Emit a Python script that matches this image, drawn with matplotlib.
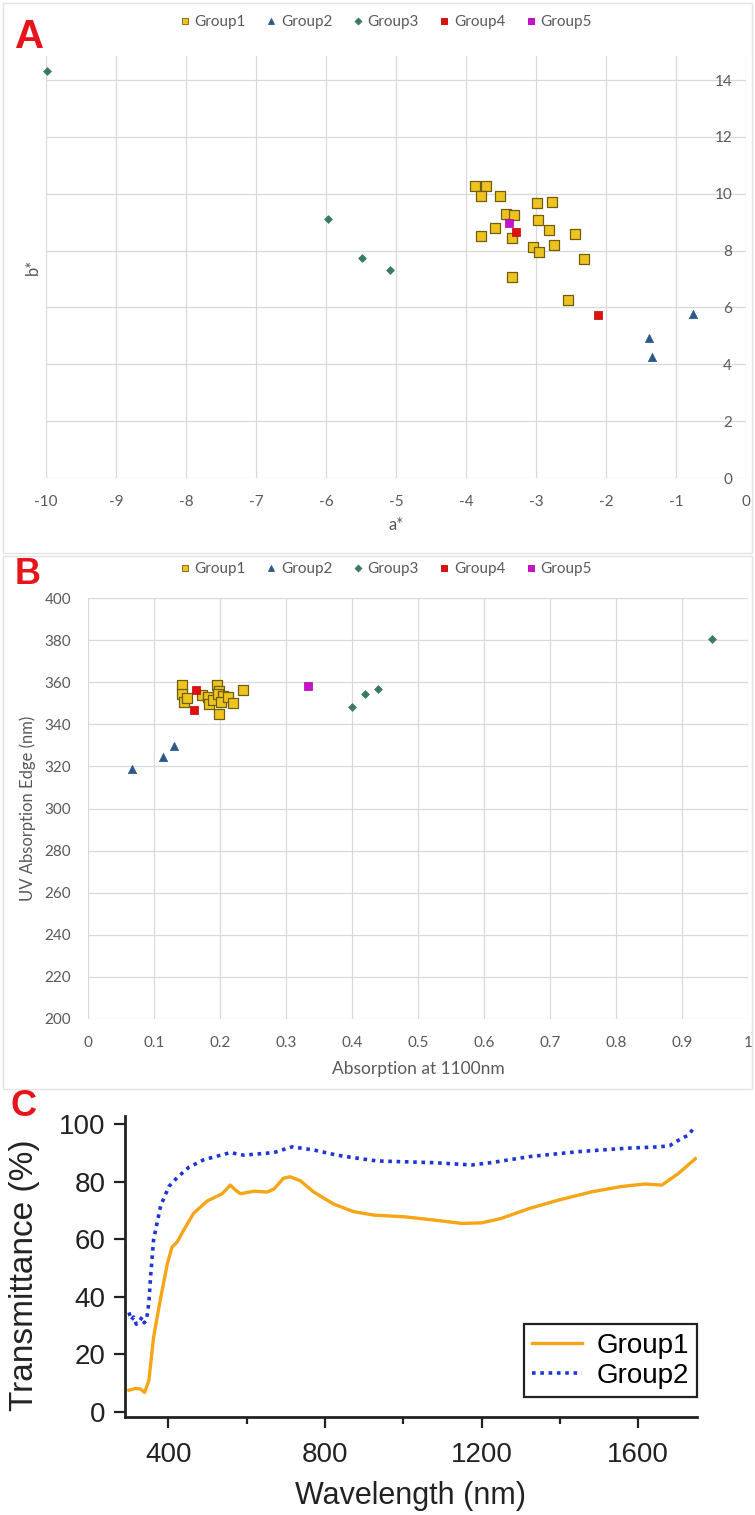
import matplotlib
matplotlib.use('Agg')
import matplotlib.pyplot as plt
from matplotlib.patches import Rectangle
from matplotlib.lines import Line2D

plt.rcParams['axes.unicode_minus'] = False

# ---------------- Panel A data (a*, b*) ----------------
a_g1_x = [-3.87, -3.72, -3.78, -3.52, -2.98, -2.77, -3.43, -3.31, -2.97, -3.59,
          -3.79, -2.81, -2.44, -3.34, -3.04, -2.96, -2.75, -2.31, -3.34, -2.55]
a_g1_y = [10.29, 10.29, 9.91, 9.91, 9.69, 9.71, 9.28, 9.26, 9.08, 8.79,
          8.50, 8.73, 8.58, 8.44, 8.12, 7.95, 8.20, 7.70, 7.07, 6.27]
a_g2_x = [-0.76, -1.39, -1.35]
a_g2_y = [5.77, 4.92, 4.25]
a_g3_x = [-9.99, -5.97, -5.49, -5.09]
a_g3_y = [14.31, 9.10, 7.73, 7.32]
a_g4_x = [-3.29, -2.12]
a_g4_y = [8.65, 5.72]
a_g5_x = [-3.39]
a_g5_y = [8.97]

# ---------------- Panel B data (absorption at 1100nm, UV edge) ----------------
b_g1_x = [0.143, 0.143, 0.145, 0.150, 0.172, 0.182, 0.184, 0.190, 0.196, 0.198,
          0.197, 0.205, 0.202, 0.212, 0.220, 0.235, 0.199]
b_g1_y = [358.5, 354.5, 350.5, 352.5, 354.0, 353.2, 349.5, 351.5, 358.5, 356.0,
          354.5, 353.4, 350.7, 353.1, 350.3, 356.3, 345.0]
b_g2_x = [0.066, 0.114, 0.130]
b_g2_y = [319.0, 324.5, 329.5]
b_g3_x = [0.400, 0.420, 0.440, 0.945]
b_g3_y = [348.4, 354.5, 357.0, 380.5]
b_g4_x = [0.163, 0.160]
b_g4_y = [356.1, 346.6]
b_g5_x = [0.334]
b_g5_y = [358.0]

# ---------------- Panel C data (transmittance spectra) ----------------
c_g1_wl = [299, 315, 329, 339, 350, 362, 380, 397, 409, 422, 439, 464, 499, 537,
           558, 572, 584, 618, 652, 669, 694, 711, 737, 770, 822, 873, 924, 1003,
           1077, 1150, 1200, 1249, 1322, 1396, 1482, 1556, 1617, 1660, 1703, 1746]
c_g1_T = [7.6, 8.2, 8.0, 6.8, 11.0, 26.0, 39.6, 51.4, 57.3, 59.0, 63.2, 69.0, 73.3, 75.8,
          78.8, 77.0, 75.8, 76.7, 76.4, 77.4, 81.2, 81.7, 80.3, 76.5, 72.2, 69.6, 68.4, 67.8,
          66.7, 65.5, 65.7, 67.2, 70.7, 73.6, 76.5, 78.3, 79.2, 78.8, 82.9, 88.0]
c_g2_wl = [299, 305, 311, 318, 324, 333, 338, 344, 350, 354, 362, 380, 401, 422, 452,
           490, 558, 592, 669, 716, 771, 831, 864, 932, 1077, 1175, 1224, 1322, 1445,
           1568, 1654, 1680, 1703, 1728, 1746]
c_g2_T = [34.6, 32.0, 33.0, 30.5, 31.3, 33.0, 31.0, 32.0, 38.0, 46.4, 59.8, 71.6, 78.3, 81.4, 85.0,
          87.6, 90.1, 89.2, 90.1, 92.1, 91.0, 89.2, 88.5, 87.2, 86.6, 85.8, 86.6, 88.7, 90.4,
          91.6, 92.1, 92.5, 94.4, 96.2, 99.3]

groups = ['Group1', 'Group2', 'Group3', 'Group4', 'Group5']

W, H = 755, 1515
fig = plt.figure(figsize=(W / 100, H / 100), dpi=100)


def rect(l, t, r, b):
    return [l / W, 1 - b / H, (r - l) / W, (b - t) / H]


excel_font = ['Lato', 'DejaVu Sans']
gray = '#595959'
grid_c = '#D9D9D9'

styles = {
    'Group1': dict(marker='s', s=44, facecolors='#EFC31F', edgecolors='#6E5E10', linewidths=0.9),
    'Group2': dict(marker='^', s=36, facecolors='#2B5A8A', edgecolors='#2B5A8A', linewidths=0.5),
    'Group3': dict(marker='D', s=16, facecolors='#3A7868', edgecolors='#3A7868', linewidths=0.5),
    'Group4': dict(marker='s', s=40, facecolors='#E01010', edgecolors='#C00000', linewidths=0.5),
    'Group5': dict(marker='s', s=36, facecolors='#C814C8', edgecolors='#B000B0', linewidths=0.5),
}


def legend_handles():
    hs = []
    for g in groups:
        st = styles[g]
        hs.append(Line2D([], [], linestyle='none', marker=st['marker'],
                         markersize=5 if st['marker'] != 'D' else 3.5,
                         markerfacecolor=st['facecolors'], markeredgecolor=st['edgecolors'],
                         markeredgewidth=0.6, label=g))
    return hs


def add_group_legend(ax, ycen):
    ax.legend(handles=legend_handles(), loc='center', bbox_to_anchor=(386 / W, 1 - ycen / H),
              bbox_transform=fig.transFigure, ncol=5, frameon=False, handlelength=0.6,
              handletextpad=0.35, columnspacing=1.35, borderpad=0,
              prop={'family': excel_font, 'size': 11}, labelcolor=gray)


# panel frames
for (t, b) in [(3, 553), (556, 1089)]:
    fig.patches.append(Rectangle((3 / W, 1 - b / H), (W - 6) / W, (b - t) / H,
                                 transform=fig.transFigure, fill=False,
                                 edgecolor='#E3E3E3', linewidth=1.0))

# ---------------- Panel A ----------------
axA = fig.add_axes(rect(46, 56, 746, 478))
for g, xs, ys in zip(groups, [a_g1_x, a_g2_x, a_g3_x, a_g4_x, a_g5_x],
                     [a_g1_y, a_g2_y, a_g3_y, a_g4_y, a_g5_y]):
    axA.scatter(xs, ys, zorder=3, clip_on=False, **styles[g])
axA.set_xlim(-10, 0)
axA.set_ylim(0, 14.85)
axA.set_xticks(range(-10, 1))
axA.set_yticks(range(0, 15, 2))
axA.grid(True, color=grid_c, linewidth=0.9)
axA.set_axisbelow(True)
for s in axA.spines.values():
    s.set_visible(False)
axA.yaxis.tick_right()
axA.tick_params(axis='x', length=0, pad=12, labelsize=11, labelcolor=gray)
axA.tick_params(axis='y', length=0, pad=-10, labelsize=11, labelcolor=gray)
for t in axA.get_yticklabels():
    t.set_horizontalalignment('right')
for t in axA.get_xticklabels() + axA.get_yticklabels():
    t.set_family(excel_font)
axA.set_xlabel('a*', fontsize=12, color=gray, family=excel_font, va='center')
axA.xaxis.set_label_coords(0.5, (478 - 525) / 422)
axA.yaxis.set_label_position('left')
axA.set_ylabel('b*', fontsize=12, color=gray, family=excel_font, va='center')
axA.yaxis.set_label_coords((33 - 46) / 700, 0.5)
add_group_legend(axA, 22)
fig.text(30 / W, 1 - 37 / H, 'A', color='#E8141C', fontsize=29, fontweight='bold',
         family='Liberation Sans', ha='center', va='center')

# ---------------- Panel B ----------------
axB = fig.add_axes(rect(88, 598, 748, 1019))
for g, xs, ys in zip(groups, [b_g1_x, b_g2_x, b_g3_x, b_g4_x, b_g5_x],
                     [b_g1_y, b_g2_y, b_g3_y, b_g4_y, b_g5_y]):
    axB.scatter(xs, ys, zorder=3, clip_on=False, **styles[g])
axB.set_xlim(0, 1)
axB.set_ylim(200, 400)
bx = [i / 10 for i in range(11)]
axB.set_xticks(bx)
axB.set_xticklabels(['0', '0.1', '0.2', '0.3', '0.4', '0.5', '0.6', '0.7', '0.8', '0.9', '1'])
axB.set_yticks(range(200, 401, 20))
axB.grid(True, color=grid_c, linewidth=0.9)
axB.set_axisbelow(True)
for s in axB.spines.values():
    s.set_visible(False)
axB.tick_params(axis='x', length=0, pad=12, labelsize=11, labelcolor=gray)
axB.tick_params(axis='y', length=0, pad=12, labelsize=11, labelcolor=gray)
for t in axB.get_xticklabels() + axB.get_yticklabels():
    t.set_family(excel_font)
axB.set_xlabel('Absorption at 1100nm', fontsize=12.5, color=gray, family=excel_font,
               va='center')
axB.xaxis.set_label_coords(0.5, (1019 - 1069) / 421)
axB.set_ylabel('UV Absorption Edge (nm)', fontsize=12, color=gray, family=excel_font,
               va='center')
axB.yaxis.set_label_coords((28 - 88) / 660, 0.5)
add_group_legend(axB, 569)
fig.text(28 / W, 1 - 574 / H, 'B', color='#E8141C', fontsize=26, fontweight='bold',
         family='Liberation Sans', ha='center', va='center')

# ---------------- Panel C ----------------
arial = ['Liberation Sans', 'DejaVu Sans']
axC = fig.add_axes(rect(125, 1116, 697, 1417))
axC.plot(c_g1_wl, c_g1_T, color='#F5A516', linewidth=2.4, label='Group1')
axC.plot(c_g2_wl, c_g2_T, color='#1F35D8', linewidth=2.6, linestyle=(0, (1, 1.3)),
         label='Group2')
axC.set_xlim(289, 1750)
axC.set_ylim(-1.7, 102.8)
axC.set_xticks([400, 800, 1200, 1600])
axC.set_xticks([600, 1000, 1400], minor=True)
axC.set_yticks(range(0, 101, 20))
for s in ['top', 'right']:
    axC.spines[s].set_visible(False)
for s in ['left', 'bottom']:
    axC.spines[s].set_linewidth(2.0)
    axC.spines[s].set_color('#222222')
axC.tick_params(axis='both', which='major', direction='out', length=8, width=1.6,
                labelsize=20, pad=6, color='#222222', labelcolor='#222222')
axC.tick_params(axis='x', which='minor', direction='out', length=5, width=1.6,
                color='#222222')
axC.tick_params(axis='x', which='major', pad=10)
for t in axC.get_xticklabels() + axC.get_yticklabels():
    t.set_family(arial)
axC.set_xlabel('Wavelength (nm)', fontsize=22, family=arial, color='#222222', va='center')
axC.xaxis.set_label_coords(0.5, (1417 - 1496) / 301)
axC.set_ylabel('Transmittance (%)', fontsize=24, family=arial, color='#222222', va='center')
axC.yaxis.set_label_coords((24 - 125) / 572, 0.47)
leg = axC.legend(loc='lower right', bbox_to_anchor=(1.0, 0.066), borderaxespad=0,
                 prop={'family': arial, 'size': 20}, handlelength=1.8, handletextpad=0.5,
                 fancybox=False, edgecolor='#222222', framealpha=1, labelspacing=0.15,
                 borderpad=0.3)
leg.get_frame().set_linewidth(1.6)
fig.text(24 / W, 1 - 1106 / H, 'C', color='#E8141C', fontsize=26, fontweight='bold',
         family='Liberation Sans', ha='center', va='center')

fig.savefig('out.png', dpi=100, facecolor='white')
